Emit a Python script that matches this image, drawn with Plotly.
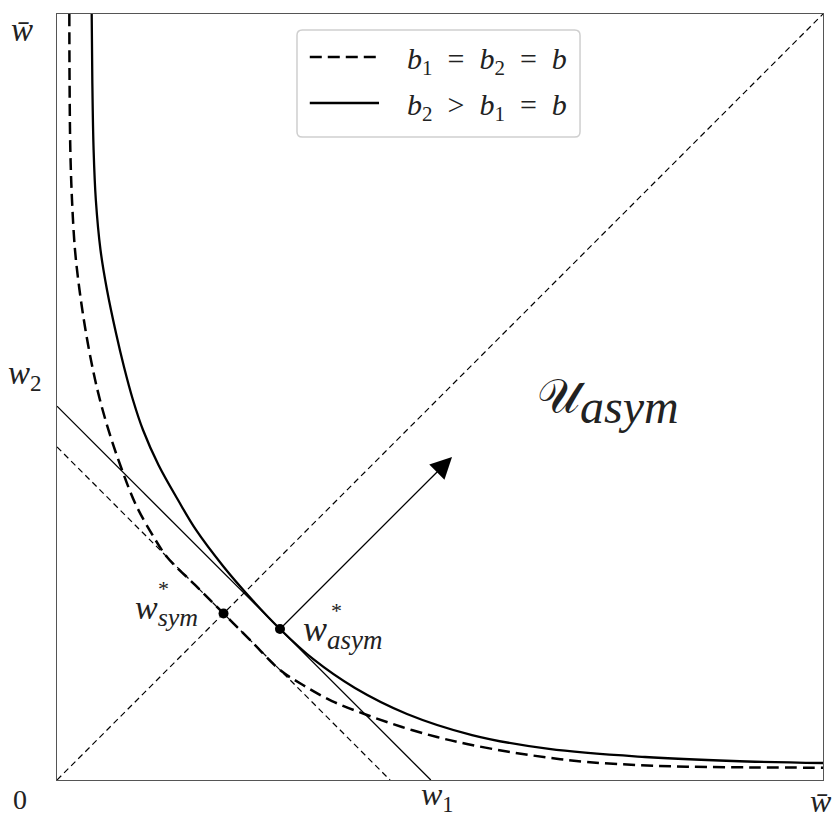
import plotly.graph_objects as go

# Frontiers in the (w1, w2) plane, both wages normalised so that w̄ = 1
# Symmetric case (b1 = b2 = b): mirror-symmetric about the 45-degree line
sym_w1 = [0.0161, 0.0164, 0.0174, 0.0196, 0.0235, 0.0294, 0.0372, 0.0470,
          0.0561, 0.0692, 0.0849, 0.1031, 0.1240, 0.1436, 0.1802, 0.2174,
          0.2546, 0.2911, 0.3211, 0.3590, 0.4047, 0.4504, 0.4961, 0.5352,
          0.5875, 0.6397, 0.6919, 0.7572, 0.8225, 0.9138, 1.0]
sym_w2 = [1.0, 0.9138, 0.8225, 0.7572, 0.6919, 0.6397, 0.5875, 0.5352,
          0.4961, 0.4504, 0.4047, 0.3590, 0.3211, 0.2911, 0.2546, 0.2174,
          0.1802, 0.1436, 0.1240, 0.1031, 0.0849, 0.0692, 0.0561, 0.0470,
          0.0372, 0.0294, 0.0235, 0.0196, 0.0174, 0.0164, 0.0161]

# Asymmetric case (b2 > b1 = b)
asym_w1 = [0.0453, 0.0461, 0.0478, 0.0507, 0.0568, 0.0653, 0.0770, 0.0875,
           0.0992, 0.1123, 0.1325, 0.1580, 0.1815, 0.2167, 0.2526, 0.2911,
           0.3342, 0.3890, 0.4569, 0.5418, 0.6423, 0.7676, 0.8825, 1.0]
asym_w2 = [1.0, 0.9138, 0.8225, 0.7572, 0.6919, 0.6397, 0.5836, 0.5392,
           0.4961, 0.4569, 0.4112, 0.3655, 0.3264, 0.2794, 0.2376, 0.1971,
           0.1580, 0.1201, 0.0862, 0.0587, 0.0405, 0.0300, 0.0248, 0.0222]

# Equilibria
sym_point = (0.2174, 0.2174)
asym_point = (0.2911, 0.1971)

# Iso-sum levels w1 + w2 = c through each equilibrium
sym_level = 0.4348
asym_level = 0.488

# Improvement direction from the asymmetric equilibrium
arrow_tip = (0.5157, 0.4217)

SERIF = "Liberation Serif"
INK = "#222222"

fig = go.Figure()

# 45-degree line
fig.add_trace(go.Scatter(x=[0, 1], y=[0, 1], mode="lines",
                         line=dict(color="black", width=1.2, dash="6px,4px"),
                         hoverinfo="skip", showlegend=False))
# iso-sum lines
fig.add_trace(go.Scatter(x=[0, sym_level], y=[sym_level, 0], mode="lines",
                         line=dict(color="black", width=1.2, dash="6px,4px"),
                         hoverinfo="skip", showlegend=False))
fig.add_trace(go.Scatter(x=[0, asym_level], y=[asym_level, 0], mode="lines",
                         line=dict(color="black", width=1.3),
                         hoverinfo="skip", showlegend=False))
# frontiers
fig.add_trace(go.Scatter(x=sym_w1, y=sym_w2, mode="lines",
                         line=dict(color="black", width=2.5, dash="12px,6px",
                                   shape="spline", smoothing=1.0),
                         name="b1 = b2 = b", showlegend=False))
fig.add_trace(go.Scatter(x=asym_w1, y=asym_w2, mode="lines",
                         line=dict(color="black", width=2.3,
                                   shape="spline", smoothing=1.0),
                         name="b2 > b1 = b", showlegend=False))
# equilibrium points
fig.add_trace(go.Scatter(x=[sym_point[0], asym_point[0]],
                         y=[sym_point[1], asym_point[1]], mode="markers",
                         marker=dict(color="black", size=10),
                         hoverinfo="skip", showlegend=False, cliponaxis=False))

ann = []


def label(text, x, y, size, xanchor="center", yanchor="middle", ref="paper"):
    ann.append(dict(text=text, x=x, y=y, xref=ref, yref=ref.replace("x", "y"),
                    showarrow=False, xanchor=xanchor, yanchor=yanchor,
                    font=dict(family=SERIF, size=size, color=INK)))


def sub(text, px):
    return f"<sub><span style='font-size:{px}px'><i>{text}</i></span></sub>"


# arrow
ann.append(dict(x=arrow_tip[0], y=arrow_tip[1], ax=asym_point[0], ay=asym_point[1],
                xref="x", yref="y", axref="x", ayref="y", text="",
                showarrow=True, arrowhead=2, arrowsize=3.3, arrowwidth=1.3,
                arrowcolor="black", standoff=0, startstandoff=0))

# axis labels
label("0", -0.048, -0.026, 28)
label("<i>w</i><sub>1</sub>", 0.497, -0.022, 32)
label("<i>w\u0304</i>", 0.998, -0.028, 32)
label("<i>w\u0304</i>", -0.046, 0.979, 33)
label("<i>w</i><sub>2</sub>", -0.042, 0.528, 33)

# point labels
label("<i>w</i>" + sub("sym", 26), 0.1872, 0.2215, 34, xanchor="right")
label("*", 0.1385, 0.2495, 22)
label("<i>w</i>" + sub("asym", 27), 0.318, 0.193, 36, xanchor="left")
label("*", 0.365, 0.2215, 22)

# region label
label("\U0001D4B0" + sub("asym", 48), 0.624, 0.494, 48, xanchor="left")

# legend box
lx0, lx1, ly0, ly1, r = 0.3133, 0.6828, 0.8394, 0.9791, 0.007
box = (f"M{lx0 + r},{ly1} L{lx1 - r},{ly1} Q{lx1},{ly1} {lx1},{ly1 - r} "
       f"L{lx1},{ly0 + r} Q{lx1},{ly0} {lx1 - r},{ly0} L{lx0 + r},{ly0} "
       f"Q{lx0},{ly0} {lx0},{ly0 + r} L{lx0},{ly1 - r} Q{lx0},{ly1} {lx0 + r},{ly1} Z")
shapes = [
    dict(type="path", path=box, xref="paper", yref="paper",
         line=dict(color="#cfcfcf", width=1.5), fillcolor="rgba(255,255,255,0.85)"),
    dict(type="line", xref="paper", yref="paper", x0=0.330, x1=0.4204,
         y0=0.9439, y1=0.9439, line=dict(color="black", width=2.5, dash="12px,6px")),
    dict(type="line", xref="paper", yref="paper", x0=0.330, x1=0.4204,
         y0=0.8838, y1=0.8838, line=dict(color="black", width=2.5)),
]
SP = "\u2002"
label(f"<i>b</i><sub>1</sub>{SP}={SP}<i>b</i><sub>2</sub>{SP}={SP}<i>b</i>",
      0.4543, 0.939, 30, xanchor="left")
label(f"<i>b</i><sub>2</sub>{SP}&gt;{SP}<i>b</i><sub>1</sub>{SP}={SP}<i>b</i>",
      0.4543, 0.879, 30, xanchor="left")

axis = dict(range=[0, 1], showgrid=False, zeroline=False, showticklabels=False,
            ticks="", showline=True, mirror=True, linecolor="#555", linewidth=1.3,
            fixedrange=True)

fig.update_layout(
    width=835, height=814,
    margin=dict(l=57, r=12, t=14, b=34),
    paper_bgcolor="white", plot_bgcolor="white",
    xaxis=axis, yaxis=axis,
    annotations=ann, shapes=shapes,
    showlegend=False,
)

fig.write_html("out.html")
